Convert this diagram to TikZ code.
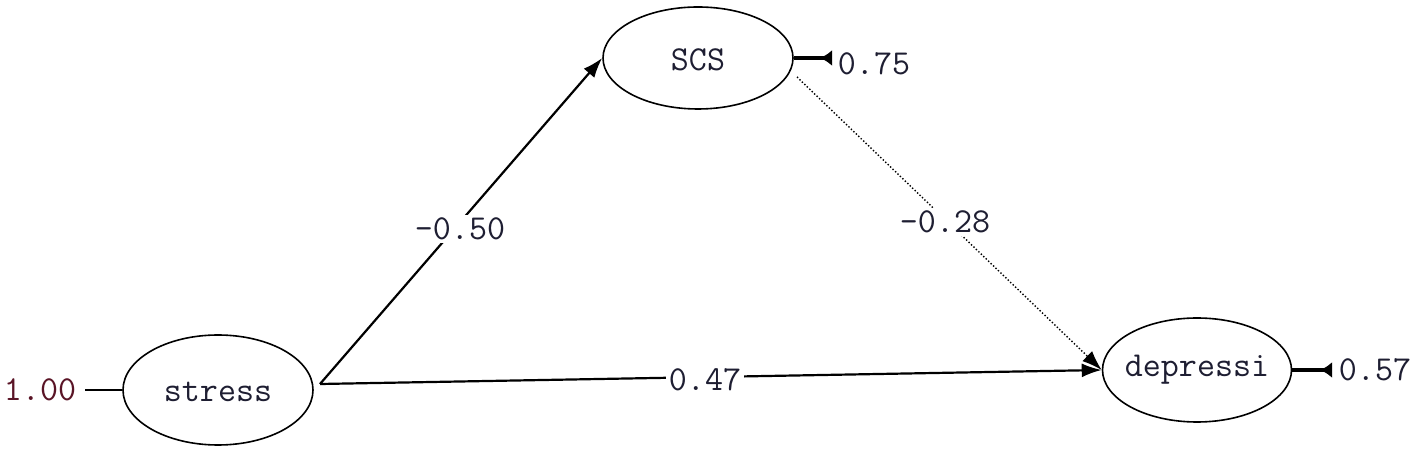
\documentclass[tikz,border=0pt]{standalone}
\usetikzlibrary{shapes.geometric,arrows.meta}
\definecolor{txt}{HTML}{1E1E32}
\definecolor{maroon}{HTML}{5A1426}
\tikzset{
  lv/.style={ellipse, draw=black, line width=0.8pt, inner sep=0pt},
  lvtext/.style={font=\fontsize{17.5}{18}\ttfamily, text=txt, inner sep=0pt},
  num/.style={font=\fontsize{17.5}{18}\ttfamily, text=txt, fill=white, inner sep=1.5pt},
  path/.style={line width=1.1pt, -{Latex[length=10pt,width=7pt]}},
  dpath/.style={line width=0.7pt, densely dotted, -{Latex[length=10pt,width=7pt]}},
  err/.style={line width=1.8pt, -{Latex[reversed,length=6pt,width=8pt]}},
}
\begin{document}
\begin{tikzpicture}[x=0.5pt,y=-0.5pt]
\fill[white] (0,0) rectangle (1417,453);
\useasboundingbox (0,0) rectangle (1417,453);
% latent variables
\node[lv, minimum width=95pt, minimum height=55pt] (stress) at (218,390) {};
\node[lvtext] (stresst) at (218,392) {stress};
\node[lv, minimum width=95pt, minimum height=51pt] (SCS) at (698,58) {};
\node[lvtext] (SCSt) at (698,60) {SCS};
\node[lv, minimum width=94.5pt, minimum height=52pt] (dep) at (1197,370) {};
\node[lvtext] (dept) at (1197,370) {depressi};
% start points of paths
\coordinate (s0) at (320,384);
\coordinate (scsout) at (797,77);
% structural paths
\draw[path] (s0) -- (SCS.west);
\draw[path] (s0) -- (dep.west);
\draw[dpath] (scsout) -- (dep.west);
% path labels
\node[num] (l50) at (460,229) {-0.50};
\node[num] (l47) at (705,380) {0.47};
\node[num] (l28) at (945,222) {-0.28};
% error terms
\node[font=\fontsize{17.5}{18}\ttfamily, text=maroon, inner sep=0pt] (e1) at (40,390) {1.00};
\coordinate (e1a) at (85,390);
\draw[line width=1.1pt] (e1a) -- (stress.west);
\node[lvtext] (e2) at (874,64) {0.75};
\coordinate (e2a) at (832,58);
\draw[err] (SCS.east) -- (e2a);
\node[lvtext] (e3) at (1375,370) {0.57};
\coordinate (e3a) at (1332,370);
\draw[err] (dep.east) -- (e3a);
\end{tikzpicture}
\end{document}
